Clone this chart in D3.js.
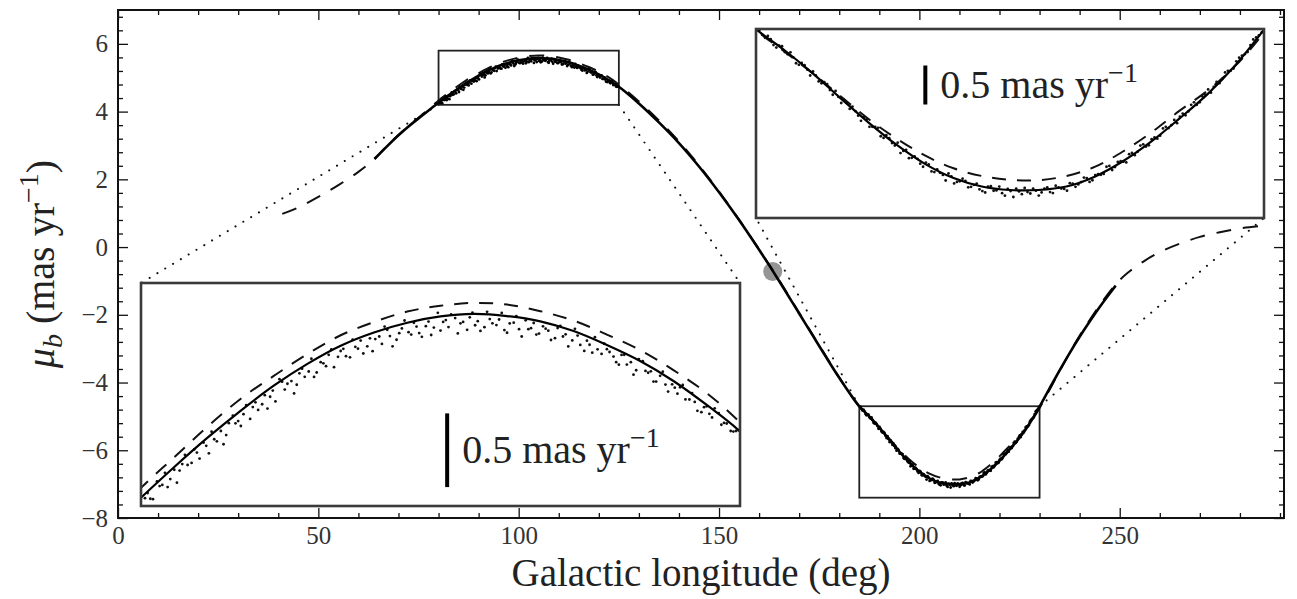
<!DOCTYPE html>
<html>
<head>
<meta charset="utf-8">
<script src="https://cdn.jsdelivr.net/npm/d3@7"></script>
<style>
  body { margin: 0; background: #fff; }
  text { font-family: "Liberation Serif", "Times New Roman", serif; }
</style>
</head>
<body>
<svg id="chart" width="1297" height="599"></svg>
<script>
// ---- data ----
// best-fit model (solid)
const fitLon = [64, 67, 70, 72.5, 75, 77.5, 80, 82.5, 85, 87.5, 90, 92.5, 95, 97.5, 100, 102.5, 105, 107.5, 110, 112.5, 115, 117.5, 120, 122.5, 125,
  130, 135, 140, 145, 150, 155, 160, 165, 170, 175, 180, 185,
  187.5, 190, 192.5, 195, 197.5, 200, 202.5, 205, 207.5, 210, 212.5, 215, 217.5, 220, 222.5, 225, 227.5, 230,
  232.5, 235, 237.5, 240, 242.5, 245, 247.5, 249];
const fitMu = [2.60, 2.96, 3.30, 3.56, 3.80, 4.035, 4.26, 4.48, 4.69, 4.885, 5.065, 5.22, 5.35, 5.445, 5.515, 5.56, 5.578, 5.563, 5.525, 5.455, 5.355, 5.24, 5.097, 4.925, 4.735,
  4.24, 3.68, 3.07, 2.38, 1.62, 0.80, -0.08, -1.00, -1.96, -2.92, -3.86, -4.70,
  -5.00, -5.33, -5.69, -6.04, -6.36, -6.63, -6.83, -6.95, -7.00, -7.00, -6.95, -6.81, -6.59, -6.31, -5.98, -5.63, -5.21, -4.71,
  -4.17, -3.64, -3.13, -2.65, -2.20, -1.77, -1.37, -1.14];

// second model (dashed)
const altLon = [41, 45, 50, 55, 60, 64, 67, 70, 72.5, 75, 77.5,
  80, 82.5, 85, 87.5, 90, 92.5, 95, 97.5, 100, 102.5, 105, 107.5, 110, 112.5, 115, 117.5, 120, 122.5, 125,
  130, 135, 140, 145, 150, 155, 160, 165, 170, 175, 180, 185,
  187.5, 190, 192.5, 195, 197.5, 200, 202.5, 205, 207.5, 210, 212.5, 215, 217.5, 220, 222.5, 225, 227.5, 230,
  235, 240, 245, 249, 252, 256, 260, 265, 270, 275, 280, 286];
const altMu = [0.98, 1.17, 1.48, 1.83, 2.22, 2.60, 2.97, 3.31, 3.57, 3.82, 4.07,
  4.33, 4.55, 4.77, 4.97, 5.135, 5.29, 5.425, 5.52, 5.595, 5.637, 5.657, 5.645, 5.598, 5.53, 5.43, 5.318, 5.175, 5.01, 4.80,
  4.30, 3.74, 3.12, 2.41, 1.64, 0.81, -0.07, -0.98, -1.94, -2.90, -3.85, -4.71,
  -5.02, -5.33, -5.66, -5.99, -6.27, -6.51, -6.69, -6.80, -6.855, -6.86, -6.80, -6.67, -6.45, -6.18, -5.87, -5.58, -5.22, -4.75,
  -3.66, -2.62, -1.72, -1.10, -0.76, -0.42, -0.15, 0.10, 0.30, 0.44, 0.55, 0.63];

// stars near the maximum
const starsALon = [80.3, 80.7, 81.2, 81.6, 82.0, 82.5, 82.9, 83.3, 83.8, 84.2, 84.7, 85.1, 85.5, 86.0, 86.4, 86.9, 87.3, 87.7, 88.2, 88.6,
  89.1, 89.5, 89.9, 90.4, 90.8, 91.3, 91.7, 92.1, 92.6, 93.0, 93.5, 93.9, 94.3, 94.8, 95.2, 95.7, 96.1, 96.5, 97.0, 97.4,
  97.9, 98.3, 98.7, 99.2, 99.6, 100.1, 100.5, 100.9, 101.4, 101.8, 102.3, 102.7, 103.1, 103.6, 104.0, 104.5, 104.9, 105.3, 105.8, 106.2,
  106.7, 107.1, 107.5, 108.0, 108.4, 108.9, 109.3, 109.7, 110.2, 110.6, 111.1, 111.5, 111.9, 112.4, 112.8, 113.3, 113.7, 114.1, 114.6, 115.0,
  115.5, 115.9, 116.3, 116.8, 117.2, 117.7, 118.1, 118.5, 119.0, 119.4, 119.9, 120.3, 120.7, 121.2, 121.6, 122.1, 122.5, 122.9, 123.4, 123.8,
  124.3, 124.7];
const starsAMu = [4.256, 4.252, 4.376, 4.351, 4.336, 4.46, 4.454, 4.567, 4.509, 4.583, 4.655, 4.578, 4.679, 4.738, 4.709, 4.848, 4.809, 4.859, 4.825, 4.944,
  4.93, 4.899, 5.028, 5.11, 5.035, 5.096, 5.07, 5.185, 5.165, 5.126, 5.232, 5.203, 5.324, 5.27, 5.328, 5.267, 5.342, 5.387, 5.346, 5.311,
  5.416, 5.487, 5.419, 5.393, 5.474, 5.447, 5.514, 5.441, 5.49, 5.427, 5.586, 5.521, 5.484, 5.548, 5.511, 5.464, 5.587, 5.526, 5.483, 5.541,
  5.498, 5.585, 5.443, 5.515, 5.469, 5.532, 5.476, 5.43, 5.489, 5.458, 5.404, 5.493, 5.432, 5.388, 5.423, 5.313, 5.357, 5.411, 5.291, 5.325,
  5.272, 5.214, 5.285, 5.232, 5.174, 5.239, 5.156, 5.093, 5.134, 5.071, 5.073, 5.006, 5.069, 4.964, 4.947, 4.873, 4.915, 4.835, 4.867, 4.796,
  4.738, 4.738];
const starsA2Lon = [80.5, 80.9, 81.4, 81.8, 82.2, 82.7, 83.1, 83.5, 84.0, 84.4, 84.9, 85.3, 85.7, 86.2, 86.6, 87.1, 87.5, 87.9, 88.4, 88.8,
  89.3, 89.7, 90.1, 90.6, 91.0, 91.5, 91.9, 92.3, 92.8, 93.2, 93.7, 94.1, 94.5, 95.0, 95.4, 95.9, 96.3, 96.7, 97.2, 97.6,
  98.1, 98.5, 98.9, 99.4, 99.8, 100.3, 100.7, 101.1, 101.6, 102.0, 102.5, 102.9, 103.3, 103.8, 104.2, 104.7, 105.1, 105.5, 106.0, 106.4,
  106.9, 107.3, 107.7, 108.2, 108.6, 109.1, 109.5, 109.9, 110.4, 110.8, 111.3, 111.7, 112.1, 112.6, 113.0, 113.5, 113.9, 114.3, 114.8, 115.2,
  115.7, 116.1, 116.5, 117.0, 117.4, 117.9, 118.3, 118.7, 119.2, 119.6, 120.1, 120.5, 120.9, 121.4, 121.8, 122.3, 122.7, 123.1, 123.6, 124.0,
  124.5, 124.9];
const starsA2Mu = [4.293, 4.249, 4.343, 4.438, 4.393, 4.367, 4.501, 4.494, 4.606, 4.54, 4.632, 4.733, 4.664, 4.643, 4.794, 4.793, 4.774, 4.924, 4.91, 4.889,
  4.995, 4.984, 4.95, 5.092, 5.077, 5.008, 5.152, 5.127, 5.257, 5.158, 5.224, 5.285, 5.196, 5.312, 5.275, 5.394, 5.329, 5.294, 5.403, 5.398,
  5.363, 5.464, 5.346, 5.44, 5.531, 5.43, 5.487, 5.414, 5.523, 5.48, 5.459, 5.534, 5.574, 5.438, 5.521, 5.554, 5.497, 5.456, 5.593, 5.511,
  5.538, 5.462, 5.51, 5.563, 5.416, 5.469, 5.513, 5.437, 5.472, 5.391, 5.477, 5.416, 5.345, 5.471, 5.356, 5.386, 5.3, 5.324, 5.364, 5.305,
  5.232, 5.284, 5.215, 5.142, 5.254, 5.169, 5.166, 5.093, 5.164, 5.021, 5.049, 5.052, 4.965, 5.01, 4.883, 4.909, 4.861, 4.901, 4.783, 4.792,
  4.734, 4.744];

// stars near the minimum
const starsBLon = [185.3, 185.8, 186.3, 186.8, 187.3, 187.8, 188.3, 188.8, 189.3, 189.8, 190.3, 190.8, 191.3, 191.8, 192.3, 192.8, 193.3, 193.8, 194.3, 194.8,
  195.3, 195.8, 196.3, 196.8, 197.3, 197.8, 198.3, 198.8, 199.3, 199.8, 200.3, 200.8, 201.3, 201.8, 202.3, 202.8, 203.3, 203.8, 204.3, 204.8,
  205.3, 205.8, 206.3, 206.8, 207.3, 207.8, 208.3, 208.8, 209.3, 209.8, 210.3, 210.8, 211.3, 211.8, 212.3, 212.8, 213.3, 213.8, 214.3, 214.8,
  215.3, 215.8, 216.3, 216.8, 217.3, 217.8, 218.3, 218.8, 219.3, 219.8, 220.3, 220.8, 221.3, 221.8, 222.3, 222.8, 223.3, 223.8, 224.3, 224.8,
  225.3, 225.8, 226.3, 226.8, 227.3, 227.8, 228.3, 228.8, 229.3, 229.8];
const starsBMu = [-4.716, -4.826, -4.846, -4.966, -4.946, -5.06, -5.106, -5.212, -5.218, -5.364, -5.363, -5.475, -5.487, -5.639, -5.671, -5.712, -5.842, -5.872, -6.012, -5.992,
  -6.098, -6.112, -6.256, -6.26, -6.364, -6.472, -6.426, -6.54, -6.554, -6.668, -6.634, -6.744, -6.754, -6.864, -6.804, -6.884, -6.838, -6.962, -6.926, -6.99,
  -7.036, -6.946, -7.006, -7.046, -6.986, -7.1, -7.02, -6.97, -7.05, -7.01, -7.034, -6.964, -7.044, -6.964, -6.984, -6.903, -6.955, -6.887, -6.829, -6.861,
  -6.774, -6.77, -6.656, -6.672, -6.588, -6.606, -6.47, -6.454, -6.348, -6.362, -6.25, -6.224, -6.098, -6.072, -6.046, -5.908, -5.878, -5.748, -5.748, -5.638,
  -5.61, -5.456, -5.412, -5.298, -5.264, -5.11, -5.06, -4.93, -4.82, -4.75];
const starsB2Lon = [185.55, 186.05, 186.55, 187.05, 187.55, 188.05, 188.55, 189.05, 189.55, 190.05, 190.55, 191.05, 191.55, 192.05, 192.55, 193.05, 193.55, 194.05, 194.55, 195.05,
  195.55, 196.05, 196.55, 197.05, 197.55, 198.05, 198.55, 199.05, 199.55, 200.05, 200.55, 201.05, 201.55, 202.05, 202.55, 203.05, 203.55, 204.05, 204.55, 205.05,
  205.55, 206.05, 206.55, 207.05, 207.55, 208.05, 208.55, 209.05, 209.55, 210.05, 210.55, 211.05, 211.55, 212.05, 212.55, 213.05, 213.55, 214.05, 214.55, 215.05,
  215.55, 216.05, 216.55, 217.05, 217.55, 218.05, 218.55, 219.05, 219.55, 220.05, 220.55, 221.05, 221.55, 222.05, 222.55, 223.05, 223.55, 224.05, 224.55, 225.05,
  225.55, 226.05, 226.55, 227.05, 227.55, 228.05, 228.55, 229.05, 229.55, 229.95];
const starsB2Mu = [-4.779, -4.799, -4.929, -4.939, -5.029, -5.033, -5.189, -5.185, -5.281, -5.307, -5.449, -5.461, -5.573, -5.585, -5.757, -5.758, -5.808, -5.938, -5.958, -6.098,
  -6.098, -6.232, -6.216, -6.33, -6.324, -6.442, -6.546, -6.52, -6.624, -6.608, -6.734, -6.704, -6.784, -6.764, -6.906, -6.876, -6.87, -6.954, -6.908, -7.015,
  -6.951, -7.011, -6.951, -7.081, -7.016, -6.98, -7.06, -7.03, -6.98, -7.08, -6.979, -7.029, -6.939, -6.979, -7.009, -6.909, -6.921, -6.823, -6.885, -6.787,
  -6.782, -6.668, -6.714, -6.6, -6.596, -6.488, -6.502, -6.366, -6.38, -6.274, -6.267, -6.121, -6.115, -5.999, -5.953, -5.933, -5.783, -5.783, -5.663, -5.563,
  -5.528, -5.474, -5.32, -5.296, -5.162, -5.08, -5.03, -4.85, -4.79, -4.72];

// highlighted object
const markLon = [163.4];
const markMu = [-0.72];

// zoomed windows
const zoomALon = [80, 125], zoomAMu = [4.2, 5.8];
const zoomBLon = [185, 230], zoomBMu = [-7.4, -4.7];

// scale bar of the insets
const barLength = 0.5;
const barLabel = "0.5 mas yr";

const xTicks = [0, 50, 100, 150, 200, 250];
const yTicks = [-8, -6, -4, -2, 0, 2, 4, 6];

// ---- layout ----
const svg = d3.select("#chart");
const L = 118, R = 1284, T = 10, B = 518;
const x = d3.scaleLinear().domain([0, 291]).range([L, R]);
const y = d3.scaleLinear().domain([-8, 7]).range([B, T]);

const fit = d3.zip(fitLon, fitMu);
const alt = d3.zip(altLon, altMu);
const starsA = d3.zip(starsALon, starsAMu).concat(d3.zip(starsA2Lon, starsA2Mu));
const starsB = d3.zip(starsBLon, starsBMu).concat(d3.zip(starsB2Lon, starsB2Mu));

const FONT = '"Liberation Serif", "Times New Roman", serif';

svg.append("clipPath").attr("id", "mainclip")
  .append("rect").attr("x", L).attr("y", T).attr("width", R - L).attr("height", B - T);

const main = svg.append("g").attr("clip-path", "url(#mainclip)");

// inset boxes in page pixels
const boxA = {x0: 141, x1: 740, y0: 283, y1: 506};
const boxB = {x0: 756, x1: 1264, y0: 29, y1: 218};

// connectors (dotted) from zoom rectangles to insets
const connectors = [
  [[x(zoomALon[0]), y(zoomAMu[0])], [boxA.x0, boxA.y0]],
  [[x(zoomALon[1]), y(zoomAMu[0])], [boxA.x1, boxA.y0]],
  [[x(zoomBLon[0]), y(zoomBMu[1])], [boxB.x0, boxB.y1]],
  [[x(zoomBLon[1]), y(zoomBMu[1])], [boxB.x1, boxB.y1]]
];
main.selectAll("line.conn").data(connectors).join("line")
  .attr("class", "conn")
  .attr("x1", d => d[0][0]).attr("y1", d => d[0][1])
  .attr("x2", d => d[1][0]).attr("y2", d => d[1][1])
  .attr("stroke", "#111").attr("stroke-width", 2)
  .attr("stroke-linecap", "round")
  .attr("stroke-dasharray", "0.1,9");

// zoom rectangles
[[zoomALon, zoomAMu], [zoomBLon, zoomBMu]].forEach(([lo, mu]) => {
  main.append("rect")
    .attr("x", x(lo[0])).attr("y", y(mu[1]))
    .attr("width", x(lo[1]) - x(lo[0])).attr("height", y(mu[0]) - y(mu[1]))
    .attr("fill", "none").attr("stroke", "#222").attr("stroke-width", 1.8);
});

// highlighted object
main.selectAll("circle.mark").data(d3.zip(markLon, markMu)).join("circle")
  .attr("class", "mark")
  .attr("cx", d => x(d[0])).attr("cy", d => y(d[1])).attr("r", 9.5)
  .attr("fill", "#8a8a8a").attr("opacity", 0.9);

const lineMain = d3.line().x(d => x(d[0])).y(d => y(d[1])).curve(d3.curveCatmullRom);

main.append("path").datum(alt).attr("d", lineMain)
  .attr("fill", "none").attr("stroke", "#111").attr("stroke-width", 2)
  .attr("stroke-dasharray", "15,12");
main.append("path").datum(fit).attr("d", lineMain)
  .attr("fill", "none").attr("stroke", "#000").attr("stroke-width", 2.6);
main.selectAll("circle.star").data(starsA.concat(starsB)).join("circle")
  .attr("class", "star")
  .attr("cx", d => x(d[0])).attr("cy", d => y(d[1])).attr("r", 1.4)
  .attr("fill", "#000");

// ---- insets ----
function drawInset(id, lonDom, muDom, box, stars, barAt) {
  const xi = d3.scaleLinear().domain(lonDom).range([box.x0, box.x1]);
  const yi = d3.scaleLinear().domain(muDom).range([box.y1, box.y0]);
  const g = svg.append("g");
  svg.append("clipPath").attr("id", id)
    .append("rect").attr("x", box.x0).attr("y", box.y0)
    .attr("width", box.x1 - box.x0).attr("height", box.y1 - box.y0);
  g.append("rect").attr("x", box.x0).attr("y", box.y0)
    .attr("width", box.x1 - box.x0).attr("height", box.y1 - box.y0)
    .attr("fill", "#fff");
  const body = g.append("g").attr("clip-path", `url(#${id})`);
  const line = d3.line().x(d => xi(d[0])).y(d => yi(d[1])).curve(d3.curveCatmullRom);
  body.append("path").datum(alt).attr("d", line)
    .attr("fill", "none").attr("stroke", "#111").attr("stroke-width", 2)
    .attr("stroke-dasharray", "14,11");
  body.selectAll("circle").data(stars).join("circle")
    .attr("cx", d => xi(d[0])).attr("cy", d => yi(d[1])).attr("r", 1.4)
    .attr("fill", "#111");
  body.append("path").datum(fit).attr("d", line)
    .attr("fill", "none").attr("stroke", "#000").attr("stroke-width", 2.2);

  // scale bar
  const [bl, bm] = barAt;
  body.append("line")
    .attr("x1", xi(bl)).attr("x2", xi(bl))
    .attr("y1", yi(bm - barLength / 2)).attr("y2", yi(bm + barLength / 2))
    .attr("stroke", "#000").attr("stroke-width", 4).attr("stroke-linecap", "square");
  const t = body.append("text")
    .attr("x", xi(bl) + 15).attr("y", yi(bm) + 13)
    .attr("font-size", 40).attr("fill", "#222");
  t.append("tspan").text(barLabel);
  t.append("tspan").attr("font-size", 28).attr("dy", -16).text("\u22121");

  g.append("rect").attr("x", box.x0).attr("y", box.y0)
    .attr("width", box.x1 - box.x0).attr("height", box.y1 - box.y0)
    .attr("fill", "none").attr("stroke", "#3a3a3a").attr("stroke-width", 2.6);
}

drawInset("insA", zoomALon, zoomAMu, boxA, starsA, [103, 4.6]);
drawInset("insB", zoomBLon, zoomBMu, boxB, starsB, [200, -5.5]);

// ---- axes ----
function styleAxis(g) {
  g.select(".domain").remove();
  g.attr("font-family", FONT).attr("font-size", 25).attr("color", "#111");
  g.selectAll(".tick line").attr("stroke-width", 1.3);
  g.selectAll("text").attr("fill", "#333");
}
function bareAxis(g) {
  styleAxis(g);
  g.selectAll("text").remove();
}
const xMinor = d3.range(0, 291, 10).filter(v => v % 50 !== 0);
const yMinor = d3.range(-8, 7.01, 0.4).map(v => +v.toFixed(1)).filter(v => !yTicks.includes(v));

svg.append("g").attr("transform", `translate(0,${B})`)
  .call(d3.axisBottom(x).tickValues(xTicks).tickSize(-10).tickSizeOuter(0).tickPadding(8).tickFormat(d3.format("d")))
  .call(styleAxis);
svg.append("g").attr("transform", `translate(0,${B})`)
  .call(d3.axisBottom(x).tickValues(xMinor).tickSize(-5).tickSizeOuter(0))
  .call(bareAxis);
svg.append("g").attr("transform", `translate(0,${T})`)
  .call(d3.axisTop(x).tickValues(xTicks).tickSize(-10).tickSizeOuter(0))
  .call(bareAxis);
svg.append("g").attr("transform", `translate(0,${T})`)
  .call(d3.axisTop(x).tickValues(xMinor).tickSize(-5).tickSizeOuter(0))
  .call(bareAxis);

svg.append("g").attr("transform", `translate(${L},0)`)
  .call(d3.axisLeft(y).tickValues(yTicks).tickSize(-10).tickSizeOuter(0).tickPadding(10).tickFormat(d3.format("d")))
  .call(styleAxis);
svg.append("g").attr("transform", `translate(${L},0)`)
  .call(d3.axisLeft(y).tickValues(yMinor).tickSize(-5).tickSizeOuter(0))
  .call(bareAxis);
svg.append("g").attr("transform", `translate(${R},0)`)
  .call(d3.axisRight(y).tickValues(yTicks).tickSize(-10).tickSizeOuter(0))
  .call(bareAxis);
svg.append("g").attr("transform", `translate(${R},0)`)
  .call(d3.axisRight(y).tickValues(yMinor).tickSize(-5).tickSizeOuter(0))
  .call(bareAxis);

svg.append("rect").attr("x", L).attr("y", T).attr("width", R - L).attr("height", B - T)
  .attr("fill", "none").attr("stroke", "#111").attr("stroke-width", 2);

// ---- axis titles ----
svg.append("text")
  .attr("x", (L + R) / 2).attr("y", 586)
  .attr("text-anchor", "middle").attr("font-size", 39).attr("fill", "#222")
  .text("Galactic longitude (deg)");

const yl = svg.append("text")
  .attr("transform", `translate(54,${(T + B) / 2}) rotate(-90)`)
  .attr("text-anchor", "middle").attr("font-size", 40).attr("fill", "#222");
yl.append("tspan").attr("font-style", "italic").text("\u03bc");
yl.append("tspan").attr("font-style", "italic").attr("font-size", 28).attr("dy", 8).text("b");
yl.append("tspan").attr("dy", -8).text(" (mas yr");
yl.append("tspan").attr("font-size", 28).attr("dy", -16).text("\u22121");
yl.append("tspan").attr("dy", 16).text(")");
</script>
</body>
</html>
